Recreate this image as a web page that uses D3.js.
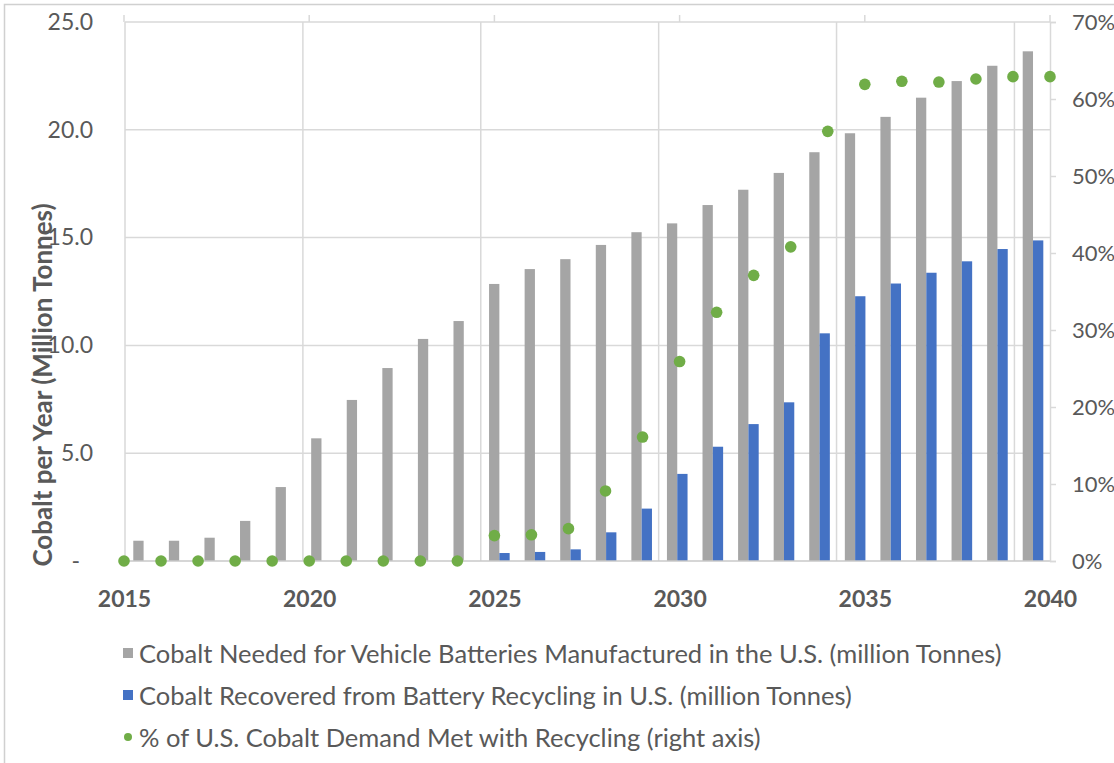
<!DOCTYPE html>
<html>
<head>
<meta charset="utf-8">
<script src="https://cdn.jsdelivr.net/npm/d3@7"></script>
<style>
  body { margin: 0; background: #fff; }
  text { font-family: Lato, "Open Sans", sans-serif; fill: #595959; }
</style>
</head>
<body>
<div id="chart"></div>
<script>
// categories
var years = [2015, 2016, 2017, 2018, 2019, 2020, 2021, 2022, 2023, 2024, 2025, 2026, 2027,
             2028, 2029, 2030, 2031, 2032, 2033, 2034, 2035, 2036, 2037, 2038, 2039, 2040];
// million tonnes
var needed = [0.94, 0.94, 1.08, 1.86, 3.43, 5.69, 7.47, 8.95, 10.3, 11.13, 12.85, 13.54, 14.0,
              14.66, 15.25, 15.66, 16.51, 17.22, 18.0, 18.96, 19.84, 20.6, 21.49, 22.26, 22.97, 23.64];
var recovered = [0, 0, 0, 0, 0, 0, 0, 0, 0, 0, 0.37, 0.42, 0.54,
                 1.33, 2.43, 4.04, 5.3, 6.35, 7.36, 10.56, 12.28, 12.87, 13.37, 13.9, 14.47, 14.87];
// % of demand met (right axis)
var pct = [0, 0, 0, 0, 0, 0, 0, 0, 0, 0, 3.3, 3.4, 4.2,
           9.1, 16.1, 25.9, 32.3, 37.1, 40.8, 55.8, 61.9, 62.3, 62.2, 62.6, 62.9, 62.9];
var xTicks = [2015, 2020, 2025, 2030, 2035, 2040];
var leftTicks = [0, 5, 10, 15, 20, 25];
var rightTicks = [0, 10, 20, 30, 40, 50, 60, 70];
var legendLabels = [
  "Cobalt Needed for Vehicle Batteries Manufactured in the U.S. (million Tonnes)",
  "Cobalt Recovered from Battery Recycling in U.S. (million Tonnes)",
  "% of U.S. Cobalt Demand Met with Recycling (right axis)"
];

var W = 1114, H = 763;
var plotL = 125, plotR = 1050, plotT = 22, plotB = 561;
var grey = "#a5a5a5", blue = "#4472c4", green = "#70ad47", gridC = "#d9d9d9";

var svg = d3.select("#chart").append("svg")
    .attr("width", W).attr("height", H);

// outer chart border
svg.append("rect")
    .attr("x", 4.5).attr("y", 4.5)
    .attr("width", W + 20).attr("height", H + 20)
    .style("fill", "none").style("stroke", "#d0d0d0").style("stroke-width", 1.5);

/* Scales */
// date axis (bars + gridlines)
var xDate = d3.scaleLinear().domain([2015, 2041]).range([plotL, plotR]);
// category axis (dots + labels)
var xCat = d3.scalePoint().domain(years).range([124, plotR]);
var yL = d3.scaleLinear().domain([0, 25]).range([plotB, plotT]);
var yR = d3.scaleLinear().domain([0, 70]).range([plotB, plotT]);

var band = xDate(2016) - xDate(2015);
var barW = 10.3;

// horizontal gridlines
svg.append("g").selectAll("line")
    .data(leftTicks.filter(d => d > 0)).enter()
    .append("line")
    .attr("x1", plotL).attr("x2", plotR)
    .attr("y1", d => yL(d)).attr("y2", d => yL(d))
    .style("stroke", gridC).style("stroke-width", 1.5);

// vertical gridlines
svg.append("g").selectAll("line")
    .data(xTicks).enter()
    .append("line")
    .attr("x1", d => xDate(d)).attr("x2", d => xDate(d))
    .attr("y1", plotT).attr("y2", plotB)
    .style("stroke", gridC).style("stroke-width", 1.5);

// top secondary axis ticks
svg.append("g").selectAll("line")
    .data(xTicks).enter()
    .append("line")
    .attr("x1", d => xCat(d)).attr("x2", d => xCat(d))
    .attr("y1", plotT - 7).attr("y2", plotT)
    .style("stroke", gridC).style("stroke-width", 1.5);

/* Bars */
var bars = svg.append("g");
bars.selectAll(".bar-need")
    .data(years).enter()
    .append("rect")
    .attr("class", "bar-need")
    .attr("x", d => xDate(d) + band / 2 + 0.8 - barW)
    .attr("width", barW)
    .attr("y", (d, i) => yL(needed[i]))
    .attr("height", (d, i) => yL(0) - yL(needed[i]))
    .style("fill", grey);

bars.selectAll(".bar-rec")
    .data(years).enter()
    .append("rect")
    .attr("class", "bar-rec")
    .attr("x", d => xDate(d) + band / 2 + 0.8)
    .attr("width", barW)
    .attr("y", (d, i) => yL(recovered[i]))
    .attr("height", (d, i) => yL(0) - yL(recovered[i]))
    .style("fill", blue);

// bottom axis line
svg.append("line")
    .attr("x1", plotL).attr("x2", plotR)
    .attr("y1", plotB).attr("y2", plotB)
    .style("stroke", "#c8c8c8").style("stroke-width", 1.5);

/* Axes */
var yAxisL = d3.axisLeft(yL).tickValues(leftTicks).tickSize(0).tickPadding(32)
    .tickFormat(d => d === 0 ? "-" : d3.format(".1f")(d));
var gL = svg.append("g").attr("transform", `translate(${plotL},0)`).call(yAxisL);
gL.select(".domain").remove();
gL.selectAll("text").style("font-size", "23px").style("fill", "#595959")
    .style("font-family", "Lato, sans-serif")
    .attr("dx", d => d === 0 ? -13 : 0);

var yAxisR = d3.axisRight(yR).tickValues(rightTicks).tickSize(6).tickPadding(16)
    .tickFormat(d => d + "%");
var gR = svg.append("g").attr("transform", `translate(${plotR},0)`).call(yAxisR);
gR.select(".domain").style("stroke", gridC).style("stroke-width", 1.5);
gR.selectAll("line").style("stroke", gridC).style("stroke-width", 1.5);
gR.selectAll("text").style("font-size", "22px").style("fill", "#595959")
    .style("font-family", "Lato, sans-serif");

var xAxis = d3.axisBottom(xCat).tickValues(xTicks).tickSize(0).tickPadding(30);
var gX = svg.append("g").attr("transform", `translate(0,${plotB})`).call(xAxis);
gX.select(".domain").remove();
gX.selectAll("text").style("font-size", "23px").style("font-weight", "bold")
    .style("fill", "#595959").style("font-family", "Lato, sans-serif");

/* Dots */
svg.append("g").selectAll("circle")
    .data(years).enter()
    .append("circle")
    .attr("cx", d => xCat(d))
    .attr("cy", (d, i) => yR(pct[i]))
    .attr("r", 5.8)
    .style("fill", green);

// y title
svg.append("text")
    .attr("transform", `translate(42,385) rotate(-90)`)
    .attr("text-anchor", "middle")
    .attr("dominant-baseline", "central")
    .style("font-size", "26px")
    .style("font-weight", "bold")
    .text("Cobalt per Year (Million Tonnes)");

/* Legend */
var legend = svg.append("g").attr("transform", "translate(123,653)");
var lg = legend.selectAll("g")
    .data(legendLabels).enter()
    .append("g")
    .attr("transform", (d, i) => `translate(0,${i * 42})`);
lg.each(function(d, i) {
  var g = d3.select(this);
  if (i < 2) {
    g.append("rect").attr("x", 0).attr("y", -5).attr("width", 10).attr("height", 10)
      .style("fill", i === 0 ? grey : blue);
  } else {
    g.append("circle").attr("cx", 5).attr("cy", 0).attr("r", 4).style("fill", green);
  }
});
lg.append("text")
    .attr("x", 16)
    .attr("dominant-baseline", "central")
    .style("font-size", "25.5px")
    .text(d => d);
</script>
</body>
</html>
